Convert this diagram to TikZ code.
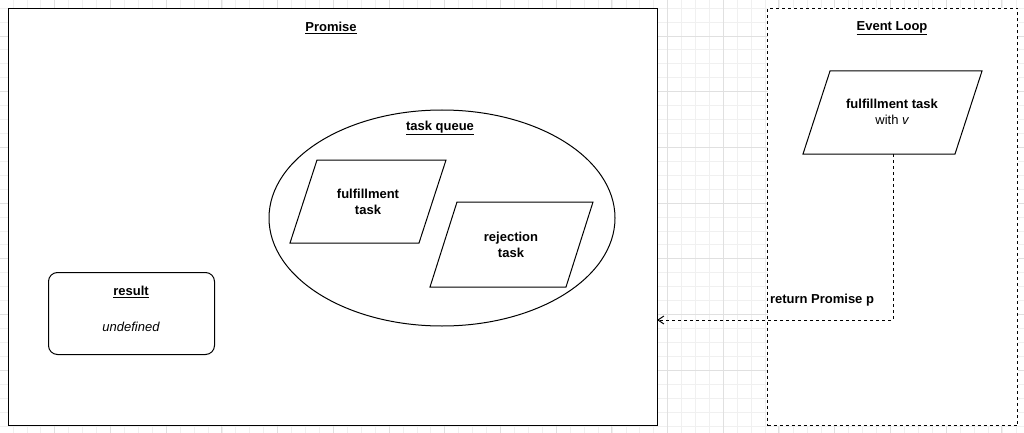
\documentclass[tikz,border=0pt]{standalone}
\usepackage{fontspec}
\usetikzlibrary{arrows.meta}
\setmainfont{Liberation Sans}
\begin{document}
\begin{tikzpicture}[x=1pt,y=-1pt,
  lbl/.style={font=\fontsize{13}{16}\selectfont\bfseries,align=center},
  box/.style={draw=black,fill=white,line width=1pt}]
\useasboundingbox (0,0) rectangle (1024,433);
\fill[white] (0,0) rectangle (1024,433);
\foreach \i in {0,...,74} {\draw[black!6,line width=0.7pt] (-1+\i*13.93,0) -- (-1+\i*13.93,433);}
\foreach \i in {0,...,31} {\draw[black!6,line width=0.7pt] (0,8+\i*13.93) -- (1024,8+\i*13.93);}
\foreach \i in {0,...,18} {\draw[black!12,line width=0.7pt] (-1+\i*55.7,0) -- (-1+\i*55.7,433);}
\foreach \i in {0,...,7} {\draw[black!12,line width=0.7pt] (0,36+\i*55.7-55.7) -- (1024,36+\i*55.7-55.7);}
% Promise box
\node[box,minimum width=649pt,minimum height=417pt,anchor=north west] (promise) at (8,8) {};
\node[lbl] (ptitle) at (331,28) {\underline{Promise}};
% Event loop box
\node[box,dashed,minimum width=250pt,minimum height=417pt,anchor=north west] (evloop) at (767,8) {};
\node[lbl] (etitle) at (892,28) {\underline{Event Loop}};
% ellipse
\draw[box] (442,218) ellipse (173 and 108);
\node[lbl] (tq) at (440,128) {\underline{task queue}};
% fulfillment
\draw[box] (317,160) -- (446,160) -- (419,243) -- (290,243) -- cycle;
\node[lbl] (ff) at (368,202) {fulfillment\\task};
% rejection
\draw[box] (457,202) -- (593,202) -- (566,287) -- (430,287) -- cycle;
\node[lbl] (rj) at (511,245) {rejection\\task};
% result
\node[box,rounded corners=9pt,minimum width=166pt,minimum height=82pt,anchor=north west] (result) at (48,272) {};
\node[lbl] (rt) at (131,292) {\underline{result}};
\node[font=\fontsize{13}{16}\selectfont\itshape] (undef) at (131,327) {undefined};
% event loop task
\draw[box] (830,71) -- (982,71) -- (955,154) -- (803,154) -- cycle;
\coordinate (ebot) at (893,154);
\node[lbl] (ft) at (892,112) {fulfillment task\\\mdseries with \itshape v};
% connector
\coordinate (pin) at (657,320);
\draw[dashed,line width=1pt,-{Straight Barb[length=6pt,width=8pt]}] (ebot) -- (893,320) -- (pin);
\node[lbl,fill=white,inner sep=1pt] (ret) at (822,300) {return Promise p};
\end{tikzpicture}
\end{document}
